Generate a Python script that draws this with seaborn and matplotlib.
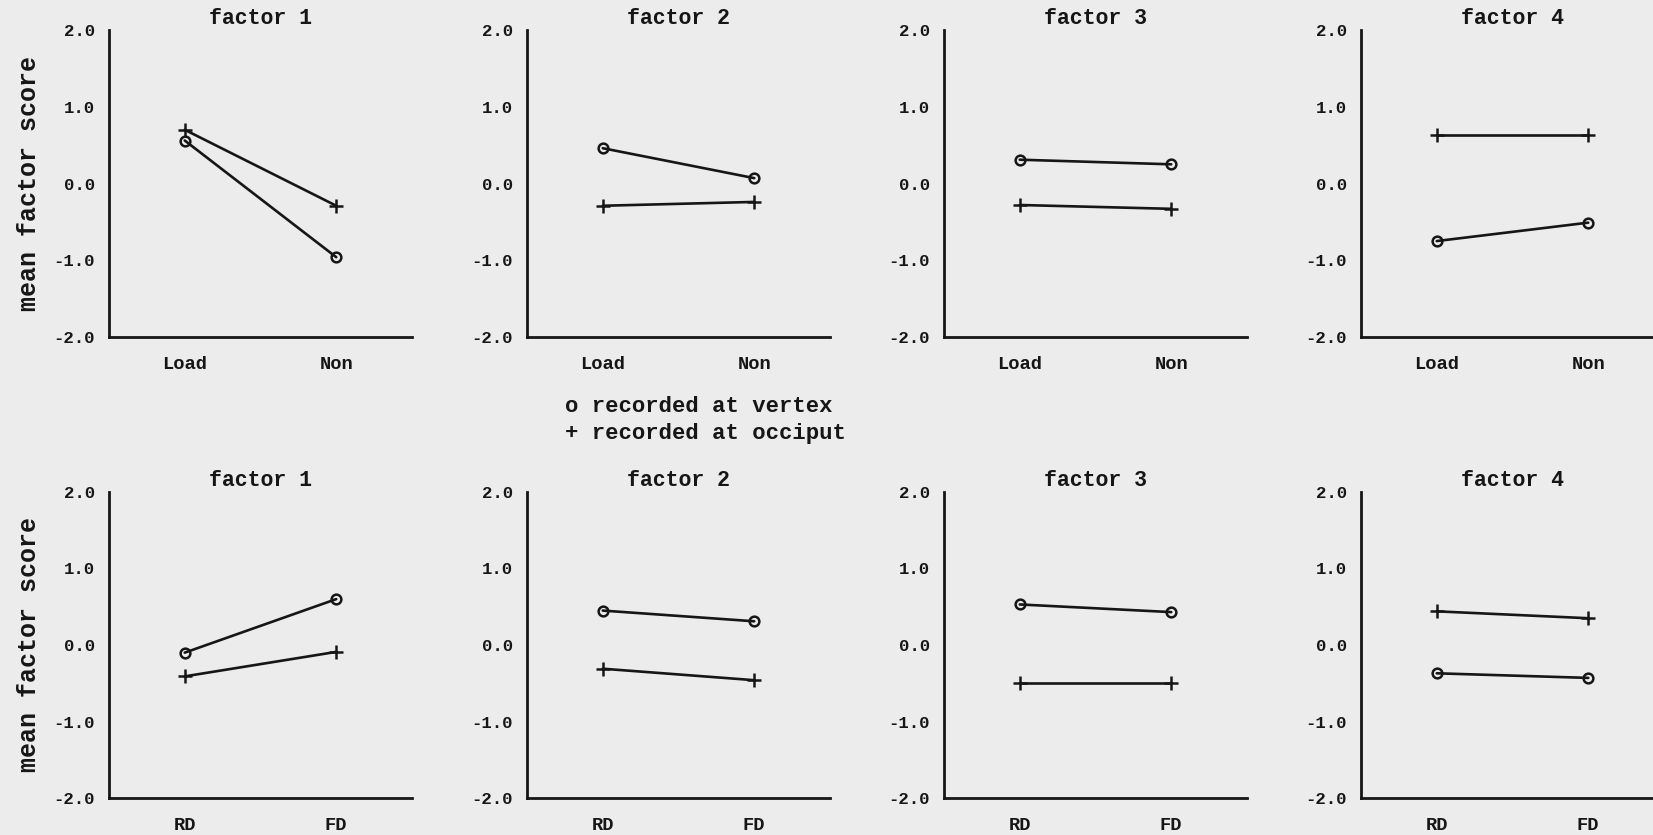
import matplotlib
matplotlib.use("Agg")
import matplotlib.pyplot as plt
import seaborn as sns
import pandas as pd

# ---- data ----
titles = ["factor 1", "factor 2", "factor 3", "factor 4"]
top_cats = ["Load", "Non"]
bottom_cats = ["RD", "FD"]

top_vertex = [[0.56, -0.96], [0.46, 0.07], [0.31, 0.25], [-0.75, -0.51]]
top_occiput = [[0.70, -0.29], [-0.29, -0.24], [-0.28, -0.33], [0.63, 0.63]]
bottom_vertex = [[-0.10, 0.60], [0.45, 0.31], [0.53, 0.43], [-0.37, -0.43]]
bottom_occiput = [[-0.41, -0.09], [-0.31, -0.46], [-0.50, -0.50], [0.44, 0.35]]

yticks = [-2.0, -1.0, 0.0, 1.0, 2.0]
ytick_labels = ["-2.0", "-1.0", "0.0", "1.0", "2.0"]
ylabel = "mean factor score"
legend_lines = ["o recorded at vertex", "+ recorded at occiput"]

# ---- style ----
sns.set_theme(style="white")
BG = "#ececec"
INK = "#161616"
FONT = ["Liberation Mono", "DejaVu Sans Mono"]
plt.rcParams["font.family"] = FONT
plt.rcParams["font.weight"] = "bold"

W, H = 1653, 835
fig = plt.figure(figsize=(W / 100, H / 100), dpi=100, facecolor=BG)

lefts_px = [109, 527, 944, 1361]
width_px = 303
rows = [
    (30, 337, top_cats, top_vertex, top_occiput),
    (492, 798, bottom_cats, bottom_vertex, bottom_occiput),
]

for (ytop, ybot, cats, vert, occ) in rows:
    for j, left in enumerate(lefts_px):
        ax = fig.add_axes([left / W, 1 - ybot / H, width_px / W, (ybot - ytop) / H])
        ax.set_facecolor("none")
        df = pd.DataFrame({
            "cond": cats * 2,
            "score": vert[j] + occ[j],
            "site": ["vertex"] * 2 + ["occiput"] * 2,
        })
        sns.lineplot(data=df[df.site == "vertex"], x="cond", y="score", ax=ax,
                     color=INK, lw=1.9, marker="o", markersize=7,
                     markerfacecolor="none", markeredgecolor=INK,
                     markeredgewidth=1.8, legend=False)
        sns.lineplot(data=df[df.site == "occiput"], x="cond", y="score", ax=ax,
                     color=INK, lw=1.9, marker="+", markersize=10,
                     markeredgecolor=INK, markeredgewidth=1.8, legend=False)
        ax.set_xlim(-0.5, 1.5)
        ax.set_ylim(-2.0, 2.0)
        ax.set_yticks(yticks)
        ax.set_yticklabels(ytick_labels, fontsize=12.5, fontweight="bold", color=INK)
        ax.set_xticks([0, 1])
        ax.set_xticklabels(cats, fontsize=13.5, fontweight="bold", color=INK)
        ax.tick_params(axis="x", length=0, pad=14)
        ax.tick_params(axis="y", length=3, width=1.5, direction="in", pad=10, color=INK)
        for s in ["top", "right"]:
            ax.spines[s].set_visible(False)
        for s in ["left", "bottom"]:
            ax.spines[s].set_color(INK)
            ax.spines[s].set_linewidth(2.0)
        ax.set_xlabel("")
        ax.set_title(titles[j], fontsize=15.5, fontweight="bold", color=INK, pad=4)
        if j == 0:
            ax.set_ylabel(ylabel, fontsize=18, fontweight="bold", color=INK)
            ax.yaxis.label.set_va("center")
            ax.yaxis.set_label_coords((29 - left) / width_px, 0.5)
        else:
            ax.set_ylabel("")

fig.text(565 / W, 1 - 407 / H, legend_lines[0], fontsize=16, fontweight="bold",
         color=INK, ha="left", va="center")
fig.text(565 / W, 1 - 433 / H, legend_lines[1], fontsize=16, fontweight="bold",
         color=INK, ha="left", va="center")

fig.savefig("out.png", dpi=100, facecolor=BG)
